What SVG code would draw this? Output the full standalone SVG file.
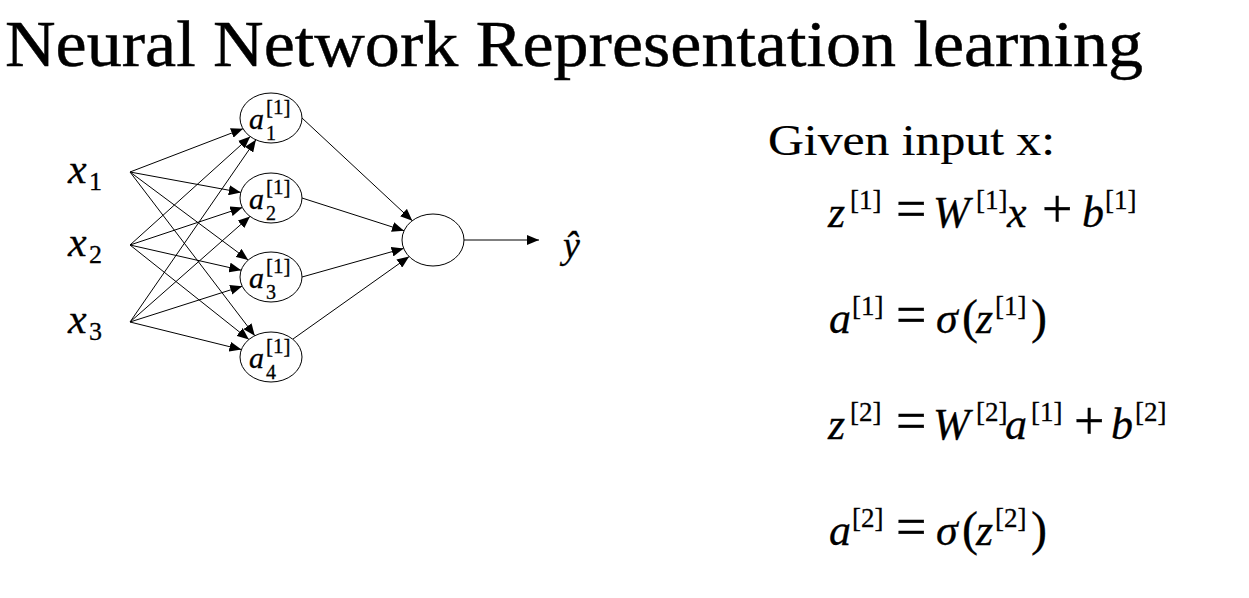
<svg xmlns="http://www.w3.org/2000/svg" width="1249" height="598" viewBox="0 0 1249 598">
<style>
.t{font-family:"Liberation Serif","Times New Roman",serif;fill:#000}
.h{stroke:#000;stroke-width:0.45}
.g{stroke:#000;stroke-width:0.2}
.m{stroke:#000;stroke-width:0.3}
.i{font-style:italic}
.o{font-size:54px}
.n{fill:#fff;stroke:#000;stroke-width:1}
.c line{stroke:#000;stroke-width:1}
</style>
<defs>
<marker id="ah" viewBox="0 0 12 10" refX="12" refY="5" markerWidth="12" markerHeight="10" markerUnits="userSpaceOnUse" orient="auto">
<path d="M0,0 L12,5 L0,10 Z" fill="#000"/>
</marker>
</defs>
<rect width="1249" height="598" fill="#fff"/>
<text class="t h" x="5" y="66" font-size="66" textLength="1138" lengthAdjust="spacingAndGlyphs">Neural Network Representation learning</text>

<g class="c" id="connectors">
<line x1="130" y1="172" x2="243.0" y2="128.7" marker-end="url(#ah)"/>
<line x1="130" y1="172" x2="240.8" y2="192.4" marker-end="url(#ah)"/>
<line x1="130" y1="172" x2="248.2" y2="260.0" marker-end="url(#ah)"/>
<line x1="130" y1="172" x2="254.8" y2="335.7" marker-end="url(#ah)"/>
<line x1="130" y1="245" x2="250.3" y2="136.6" marker-end="url(#ah)"/>
<line x1="130" y1="245" x2="242.4" y2="207.5" marker-end="url(#ah)"/>
<line x1="130" y1="245" x2="241.2" y2="270.2" marker-end="url(#ah)"/>
<line x1="130" y1="245" x2="248.9" y2="339.5" marker-end="url(#ah)"/>
<line x1="130" y1="322" x2="255.9" y2="139.8" marker-end="url(#ah)"/>
<line x1="130" y1="322" x2="250.0" y2="216.4" marker-end="url(#ah)"/>
<line x1="130" y1="322" x2="242.2" y2="286.2" marker-end="url(#ah)"/>
<line x1="130" y1="322" x2="241.4" y2="349.6" marker-end="url(#ah)"/>
<line x1="302" y1="118" x2="412.3" y2="220.7" marker-end="url(#ah)"/>
<line x1="302" y1="198" x2="404.0" y2="230.7" marker-end="url(#ah)"/>
<line x1="302" y1="277" x2="403.6" y2="248.4" marker-end="url(#ah)"/>
<line x1="293" y1="339" x2="409.1" y2="256.6" marker-end="url(#ah)"/>
<line x1="463" y1="240" x2="539" y2="240" marker-end="url(#ah)"/>
</g>

<g id="x1"><text class="t m"><tspan class="i" x="68" y="183" font-size="42">x</tspan><tspan x="89" y="190" font-size="26">1</tspan></text></g>
<g id="x2"><text class="t m"><tspan class="i" x="68" y="256" font-size="42">x</tspan><tspan x="89" y="263" font-size="26">2</tspan></text></g>
<g id="x3"><text class="t m"><tspan class="i" x="68" y="333" font-size="42">x</tspan><tspan x="89" y="340" font-size="26">3</tspan></text></g>

<g id="a1"><ellipse class="n" cx="271" cy="118" rx="31" ry="25"/>
<text class="t m"><tspan class="i" x="249" y="129" font-size="30">a</tspan><tspan x="266" y="114" font-size="21">[1]</tspan><tspan x="266" y="140" font-size="20">1</tspan></text></g>
<g id="a2"><ellipse class="n" cx="271" cy="198" rx="31" ry="25"/>
<text class="t m"><tspan class="i" x="249" y="209" font-size="30">a</tspan><tspan x="266" y="194" font-size="21">[1]</tspan><tspan x="266" y="220" font-size="20">2</tspan></text></g>
<g id="a3"><ellipse class="n" cx="271" cy="277" rx="31" ry="25"/>
<text class="t m"><tspan class="i" x="249" y="288" font-size="30">a</tspan><tspan x="266" y="273" font-size="21">[1]</tspan><tspan x="266" y="299" font-size="20">3</tspan></text></g>
<g id="a4"><ellipse class="n" cx="271" cy="357" rx="31" ry="25"/>
<text class="t m"><tspan class="i" x="249" y="368" font-size="30">a</tspan><tspan x="266" y="353" font-size="21">[1]</tspan><tspan x="266" y="379" font-size="20">4</tspan></text></g>

<g id="out"><ellipse class="n" cx="433" cy="240" rx="31" ry="26"/></g>
<g id="yhat"><text class="t i m" x="563" y="258" font-size="38">ŷ</text></g>

<g id="equations">
<text class="t g" x="768" y="155" font-size="45" textLength="287" lengthAdjust="spacingAndGlyphs">Given input x:</text>
<text class="t m" font-size="44">
<tspan class="i" x="828" y="227">z</tspan><tspan x="850" y="209" font-size="27">[1]</tspan><tspan class="o" x="896" y="227">=</tspan><tspan class="i" x="933" y="227">W</tspan><tspan x="976" y="209" font-size="27">[1]</tspan><tspan class="i" x="1007" y="227">x</tspan><tspan class="o" x="1042" y="227">+</tspan><tspan class="i" x="1082" y="227">b</tspan><tspan x="1105" y="209" font-size="27">[1]</tspan>
</text>
<text class="t m" font-size="44">
<tspan class="i" x="829" y="333">a</tspan><tspan x="852" y="315" font-size="27">[1]</tspan><tspan class="o" x="896" y="333">=</tspan><tspan class="i" x="936" y="333">σ</tspan><tspan x="962" y="333" font-size="48">(</tspan><tspan class="i" x="976" y="333">z</tspan><tspan x="995" y="315" font-size="27">[1]</tspan><tspan x="1031" y="333" font-size="48">)</tspan>
</text>
<text class="t m" font-size="44">
<tspan class="i" x="828" y="439">z</tspan><tspan x="850" y="421" font-size="27">[2]</tspan><tspan class="o" x="896" y="439">=</tspan><tspan class="i" x="933" y="439">W</tspan><tspan x="976" y="421" font-size="27">[2]</tspan><tspan class="i" x="1005" y="439">a</tspan><tspan x="1031" y="421" font-size="27">[1]</tspan><tspan class="o" x="1074" y="439">+</tspan><tspan class="i" x="1111" y="439">b</tspan><tspan x="1135" y="421" font-size="27">[2]</tspan>
</text>
<text class="t m" font-size="44">
<tspan class="i" x="829" y="545">a</tspan><tspan x="852" y="527" font-size="27">[2]</tspan><tspan class="o" x="896" y="545">=</tspan><tspan class="i" x="936" y="545">σ</tspan><tspan x="962" y="545" font-size="48">(</tspan><tspan class="i" x="976" y="545">z</tspan><tspan x="995" y="527" font-size="27">[2]</tspan><tspan x="1031" y="545" font-size="48">)</tspan>
</text>
</g>
</svg>
